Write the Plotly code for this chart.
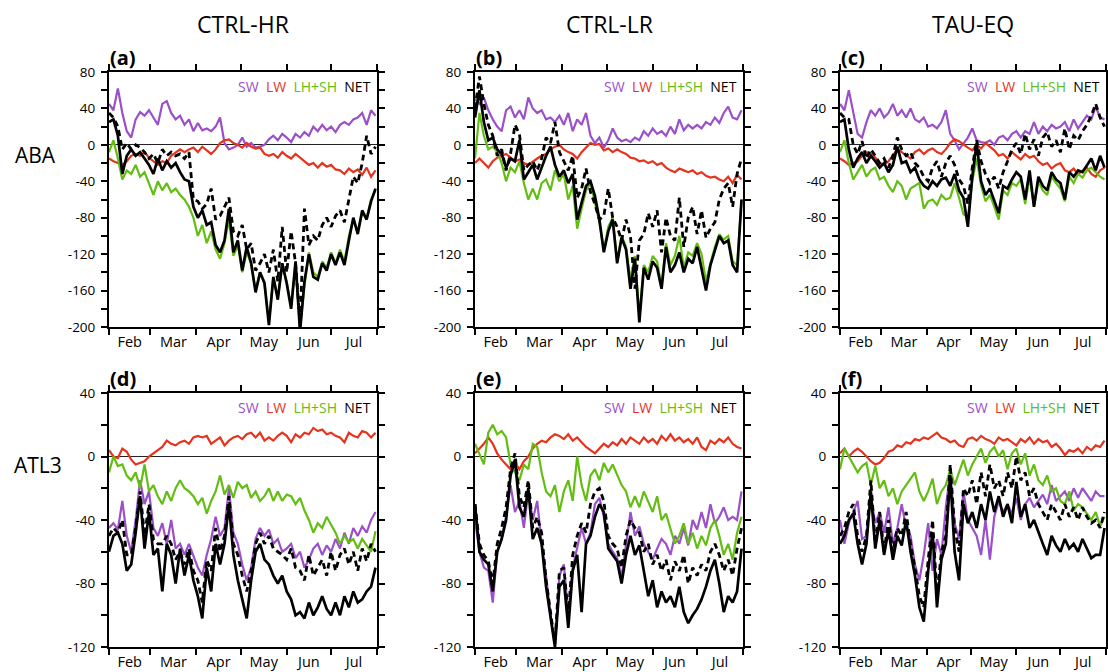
import plotly.graph_objects as go
import pandas as pd

# ---------------- data (every 3 days, 1 Feb - 31 Jul) ----------------
start_date = "2001-02-01"
n_points = 61
col_titles = ["CTRL-HR", "CTRL-LR", "TAU-EQ"]
row_titles = ["ABA", "ATL3"]
panel_tags = ["(a)", "(b)", "(c)", "(d)", "(e)", "(f)"]
series_names = ["SW", "LW", "LH+SH", "NET"]

# ---- ABA, CTRL-HR (a)
a_sw = [45, 38, 62, 35, 15, 8, 28, 36, 32, 38, 30, 22, 45, 48, 35, 28, 32, 22, 28, 15, 24, 16, 18, 15, 20, 30, 2, -5, -3, 0, 8, -2, 2, -3, -2, 0, 6, 10, 5, 12, 8, 3, 12, 8, 14, 10, 20, 15, 22, 16, 20, 14, 22, 25, 22, 28, 30, 35, 22, 38, 32]
a_lw = [-15, -18, -20, -22, -18, -12, -10, -12, -8, -14, -18, -22, -18, -20, -12, -8, -5, -8, -5, -3, -8, -2, -6, -10, -5, 2, 5, 6, 2, 0, -3, 2, -2, -4, -3, -10, -12, -10, -14, -8, -12, -15, -10, -14, -18, -22, -20, -25, -20, -24, -22, -27, -28, -32, -26, -30, -27, -33, -25, -35, -28]
a_lhsh = [-8, 5, -15, -38, -28, -32, -22, -35, -30, -42, -55, -40, -50, -42, -52, -48, -55, -60, -68, -80, -100, -88, -108, -95, -115, -125, -108, -82, -122, -110, -140, -118, -130, -160, -140, -150, -195, -145, -168, -132, -150, -178, -130, -202, -155, -118, -140, -145, -128, -135, -118, -130, -115, -128, -100, -82, -95, -75, -80, -60, -50]
a_net = [25, 28, 10, -32, -12, -5, -12, -8, -15, -22, -32, -15, -28, -18, -25, -20, -30, -38, -40, -68, -80, -72, -88, -85, -110, -118, -105, -70, -118, -105, -138, -112, -130, -162, -140, -152, -198, -145, -170, -130, -152, -180, -128, -205, -150, -120, -145, -148, -130, -138, -120, -132, -118, -132, -105, -80, -98, -72, -82, -62, -48]
a_dash = [35, 30, 20, -5, 2, -5, 0, -3, -8, -15, -10, -20, -5, -12, -8, -12, -10, -15, -8, -60, -62, -70, -65, -48, -82, -78, -68, -58, -95, -100, -88, -115, -108, -138, -130, -120, -140, -115, -150, -90, -140, -95, -130, -195, -70, -110, -100, -105, -88, -80, -90, -78, -72, -85, -60, -35, -42, -20, 10, -10, -2]

# ---- ABA, CTRL-LR (b)
b_sw = [50, 45, 52, 38, 28, 20, 15, 38, 42, 30, 38, 28, 52, 40, 35, 38, 28, 30, 25, 32, 22, 35, 15, 28, 22, 35, 10, 2, 8, -3, 5, 18, 8, 4, 6, 3, 8, 5, 15, 10, 18, 12, 15, 10, 20, 12, 28, 16, 22, 18, 22, 18, 25, 22, 30, 24, 35, 42, 30, 28, 38]
b_lw = [-20, -15, -20, -25, -18, -14, -12, -10, -14, -18, -16, -20, -22, -18, -15, -12, -10, -5, -2, 0, -5, -8, -10, -15, -8, -3, 2, 0, 1, -6, -4, -8, -5, -8, -10, -14, -15, -18, -17, -20, -18, -22, -20, -25, -28, -30, -26, -28, -30, -28, -32, -30, -34, -36, -35, -38, -40, -35, -42, -33, -38]
b_lhsh = [-15, 35, 10, -5, -2, -8, -20, -40, -25, -30, -18, -42, -60, -48, -60, -42, -38, -50, -28, -40, -32, -60, -45, -92, -70, -50, -42, -62, -85, -115, -90, -80, -128, -100, -112, -148, -122, -188, -132, -140, -122, -128, -155, -108, -132, -122, -100, -135, -118, -122, -108, -120, -150, -130, -112, -98, -104, -100, -128, -132, -60]
b_net = [30, 60, 25, 5, 8, -5, -10, -25, -15, -18, 5, -38, -30, -22, -38, -25, -12, -2, -22, -35, -28, -42, -32, -82, -62, -45, -40, -56, -82, -118, -95, -82, -130, -102, -115, -158, -125, -195, -135, -148, -128, -135, -158, -112, -140, -132, -118, -140, -125, -130, -112, -138, -160, -132, -115, -100, -108, -105, -132, -140, -60]
b_dash = [40, 75, 45, 22, 10, -12, -5, -28, -10, 22, 12, -28, -22, -18, -28, -15, 8, 2, 25, -8, -18, -28, -12, -58, -48, -26, -52, -65, -82, -78, -48, -80, -90, -105, -82, -100, -158, -105, -98, -75, -90, -72, -118, -80, -100, -105, -58, -112, -80, -68, -98, -72, -102, -92, -85, -60, -48, -42, -68, -32, -15]

# ---- ABA, TAU-EQ (c)
c_sw = [45, 38, 60, 35, 12, 8, 25, 38, 32, 40, 30, 35, 45, 32, 38, 30, 40, 28, 25, 30, 20, 22, 18, 25, 38, 12, 5, -5, 2, 8, 18, 5, 3, 2, 5, 0, 8, 10, 5, 12, 15, 8, 15, 12, 25, 12, 20, 15, 22, 18, 20, 25, 15, 28, 18, 25, 32, 28, 42, 30, 28]
c_lw = [-15, -18, -22, -20, -18, -12, -8, -10, -14, -20, -22, -18, -12, -5, -8, -12, -15, -8, -5, -10, -6, -4, -8, -10, -5, 2, 6, 4, 0, -3, -6, 0, -4, 2, -2, -6, -12, -10, -15, -8, -12, -16, -10, -14, -12, -18, -22, -20, -26, -22, -20, -28, -30, -26, -32, -28, -25, -32, -35, -28, -25]
c_lhsh = [-8, 5, -20, -38, -30, -22, -35, -28, -25, -38, -35, -45, -52, -40, -45, -60, -48, -45, -42, -70, -62, -60, -66, -55, -60, -58, -42, -58, -76, -80, -40, -15, -45, -62, -55, -68, -82, -50, -55, -42, -45, -38, -65, -35, -68, -40, -50, -55, -35, -42, -48, -62, -35, -42, -32, -36, -28, -25, -30, -35, -38]
c_net = [25, 28, -5, -25, -15, -8, -20, -12, -18, -25, -20, -30, -22, -2, -20, -18, -30, -25, -38, -45, -48, -40, -45, -38, -36, -45, -32, -50, -58, -90, -35, 2, -40, -55, -48, -62, -75, -45, -48, -38, -30, -35, -60, -28, -68, -35, -45, -50, -30, -38, -42, -60, -30, -35, -28, -30, -22, -15, -28, -12, -25]
c_dash = [35, 30, 28, 0, -10, 4, -15, -5, -12, -20, -15, -25, -12, 8, -5, -12, -8, -20, -25, -35, -40, -25, -18, -35, -20, -12, -22, -38, -45, -65, -25, 5, -18, -32, -42, -35, -48, -30, -18, -5, 2, -10, 12, -5, 6, -12, 8, 14, -2, 5, -8, 18, -5, 10, 5, 15, 22, 32, 45, 30, 20]

# ---- ATL3, CTRL-HR (d)
d_sw = [-45, -42, -46, -28, -50, -60, -40, -15, -30, -22, -45, -50, -42, -55, -40, -58, -55, -62, -55, -62, -70, -75, -62, -52, -38, -50, -45, -20, -48, -55, -68, -78, -70, -52, -45, -50, -46, -55, -52, -60, -58, -55, -64, -60, -70, -65, -58, -55, -62, -56, -60, -52, -58, -48, -55, -45, -50, -44, -48, -40, -35]
d_lw = [4, 0, -1, 5, 3, -2, -5, -4, -3, 0, 2, 4, 6, 10, 8, 7, 9, 10, 8, 12, 13, 12, 13, 8, 10, 12, 7, 10, 12, 13, 11, 14, 15, 12, 15, 10, 12, 10, 13, 15, 13, 9, 14, 12, 15, 14, 18, 16, 17, 14, 15, 13, 12, 9, 15, 13, 12, 16, 15, 12, 15]
d_lhsh = [-10, 0, -6, -5, -12, -15, -10, -20, -5, -22, -18, -25, -30, -22, -28, -20, -15, -20, -22, -25, -30, -26, -36, -28, -22, -12, -24, -18, -26, -16, -20, -18, -26, -22, -28, -25, -20, -28, -22, -28, -24, -25, -30, -26, -34, -40, -48, -42, -45, -38, -43, -48, -55, -50, -54, -52, -58, -52, -56, -60, -47]
d_net = [-60, -50, -48, -55, -72, -68, -48, -25, -58, -35, -62, -58, -85, -55, -62, -80, -58, -75, -62, -78, -88, -102, -70, -85, -55, -68, -55, -30, -62, -78, -90, -102, -78, -60, -55, -65, -68, -75, -80, -75, -85, -90, -100, -98, -102, -92, -100, -95, -88, -96, -100, -92, -100, -88, -95, -85, -92, -90, -85, -82, -70]
d_dash = [-50, -45, -48, -40, -62, -62, -45, -22, -50, -30, -52, -55, -55, -50, -55, -65, -60, -68, -58, -72, -78, -92, -65, -72, -45, -60, -50, -25, -55, -62, -75, -85, -72, -55, -48, -55, -50, -58, -60, -62, -65, -58, -70, -72, -78, -62, -75, -70, -65, -75, -60, -72, -62, -58, -68, -60, -72, -58, -66, -55, -60]

# ---- ATL3, CTRL-LR (e)
e_sw = [-40, -60, -70, -72, -92, -60, -52, -38, -18, -35, -28, -45, -22, -40, -28, -55, -75, -100, -118, -75, -68, -100, -70, -58, -45, -55, -48, -30, -26, -38, -55, -60, -64, -76, -55, -35, -50, -44, -55, -60, -65, -58, -52, -55, -62, -50, -55, -45, -56, -40, -46, -35, -45, -30, -42, -38, -32, -40, -38, -40, -22]
e_lw = [2, 5, 8, 12, 8, 2, -2, -5, -8, -4, -8, -3, 0, 5, 8, 10, 9, 12, 14, 13, 11, 14, 10, 12, 9, 6, 4, 2, 5, 8, 6, 9, 7, 11, 8, 12, 10, 8, 12, 9, 11, 8, 13, 10, 14, 10, 12, 9, 11, 8, 12, 6, 4, 10, 8, 11, 9, 12, 8, 6, 5]
e_lhsh = [8, 2, -5, 15, 20, 14, 16, 12, -5, -10, -15, -5, -8, 8, 6, -10, -22, -25, -18, -35, -22, -15, -28, 0, -18, -28, -12, -8, -15, -4, -10, -5, -12, -18, -22, -32, -25, -32, -22, -28, -35, -25, -40, -36, -45, -55, -50, -42, -55, -48, -58, -50, -56, -45, -40, -50, -62, -55, -65, -48, -38]
e_net = [-30, -60, -65, -68, -85, -60, -52, -40, -12, -2, -32, -38, -20, -52, -45, -55, -82, -100, -120, -82, -78, -108, -72, -62, -98, -55, -50, -38, -30, -35, -58, -62, -66, -80, -62, -50, -62, -56, -72, -88, -78, -95, -85, -92, -88, -95, -82, -98, -105, -100, -96, -90, -82, -72, -65, -80, -98, -88, -92, -85, -58]
e_dash = [-30, -55, -62, -66, -80, -55, -45, -32, -8, 2, -25, -32, -15, -45, -38, -48, -78, -98, -118, -72, -70, -100, -62, -50, -42, -48, -30, -22, -20, -28, -50, -55, -58, -70, -50, -40, -45, -48, -60, -55, -68, -62, -72, -65, -78, -66, -72, -62, -80, -70, -75, -68, -72, -60, -55, -62, -72, -65, -75, -58, -45]

# ---- ATL3, TAU-EQ (f)
f_sw = [-40, -55, -42, -35, -28, -52, -50, -25, -42, -35, -48, -32, -55, -45, -30, -45, -50, -68, -78, -62, -42, -72, -52, -62, -32, -10, -42, -52, -22, -40, -45, -50, -62, -40, -65, -38, -28, -35, -30, -36, -26, -40, -30, -26, -32, -28, -24, -30, -18, -28, -25, -22, -28, -20, -26, -20, -24, -28, -22, -25, -25]
f_lw = [2, 5, 0, 3, 5, 3, 0, -3, -5, -4, -1, 3, 4, 7, 6, 9, 8, 11, 10, 12, 11, 13, 15, 12, 11, 9, 10, 7, 6, 11, 12, 10, 13, 11, 10, 8, 12, 10, 11, 9, 7, 11, 9, 12, 8, 11, 9, 10, 6, 8, 5, 1, 4, 3, 5, 2, 6, 4, 7, 6, 10]
f_lhsh = [-8, 5, 0, -5, -10, -6, -4, -18, -6, -20, -15, -25, -20, -30, -22, -18, -14, -10, -22, -28, -22, -14, -30, -22, -18, -8, -18, -10, -2, -12, -5, 0, 5, -4, 3, 6, 0, 4, -8, 2, 5, -5, 2, -12, -5, -15, -18, -12, -22, -20, -28, -30, -22, -34, -30, -32, -36, -40, -35, -44, -38]
f_net = [-55, -50, -40, -36, -55, -68, -55, -22, -58, -40, -62, -46, -65, -50, -56, -40, -60, -75, -95, -104, -72, -48, -95, -65, -55, -12, -60, -78, -30, -42, -35, -45, -30, -40, -22, -35, -25, -38, -30, -42, -16, -38, -30, -45, -40, -48, -55, -62, -50, -56, -60, -52, -58, -55, -60, -52, -58, -64, -62, -62, -45]
f_dash = [-50, -45, -35, -30, -50, -60, -50, -15, -55, -35, -60, -40, -60, -45, -50, -35, -55, -70, -88, -95, -65, -40, -88, -60, -50, -5, -45, -60, -20, -25, -15, -30, -10, -25, -5, -20, -15, -25, -10, -20, 0, -15, -10, -25, -20, -30, -35, -40, -30, -35, -40, -30, -38, -32, -40, -32, -38, -42, -40, -45, -35]

top_yticks = [80, 40, 0, -40, -80, -120, -160, -200]
bot_yticks = [40, 0, -40, -80, -120]

# ---------------- styling ----------------
W, H = 1108, 672
FONT = "Open Sans"
C_SW = "#9b4fc9"
C_LW = "#e5331d"
C_GR = "#63bd12"
C_BK = "#000000"

dates = pd.date_range(start_date, periods=n_points, freq="3D")

panels = [
    (a_sw, a_lw, a_lhsh, a_net, a_dash),
    (b_sw, b_lw, b_lhsh, b_net, b_dash),
    (c_sw, c_lw, c_lhsh, c_net, c_dash),
    (d_sw, d_lw, d_lhsh, d_net, d_dash),
    (e_sw, e_lw, e_lhsh, e_net, e_dash),
    (f_sw, f_lw, f_lhsh, f_net, f_dash),
]

# pixel boxes of the plotting areas
xpix = [(109, 377), (475, 743), (840, 1106)]
ypix = [(72, 327), (393, 647)]

fig = go.Figure()
layout = {}
for i, (sw, lw, lh, net, dash) in enumerate(panels):
    r, c = divmod(i, 3)
    k = "" if i == 0 else str(i + 1)
    xa, ya = "x" + k, "y" + k
    for vals, col, wd, ds in [(sw, C_SW, 2.2, "solid"), (lw, C_LW, 2.2, "solid"),
                              (lh, C_GR, 2.2, "solid"), (dash, C_BK, 2.8, "6px,4px"),
                              (net, C_BK, 2.7, "solid")]:
        fig.add_trace(go.Scatter(x=dates, y=vals, mode="lines", xaxis=xa, yaxis=ya,
                                 line=dict(color=col, width=wd, dash=ds),
                                 showlegend=False, hoverinfo="skip"))
    x0, x1 = xpix[c]
    y0, y1 = ypix[r]
    yt = top_yticks if r == 0 else bot_yticks
    layout["xaxis" + k] = dict(
        domain=[x0 / W, x1 / W], anchor=ya, type="date",
        range=["2001-02-01", "2001-08-01"], tick0="2001-02-01", dtick="M1",
        ticklabelmode="period", tickformat="%b",
        showline=True, linecolor="black", linewidth=2, mirror="ticks",
        ticks="outside", ticklen=6, tickwidth=1.5, tickcolor="black",
        ticklabelstandoff=-5,
        showgrid=False, zeroline=False, automargin=False,
        tickfont=dict(family=FONT, size=14.5, color="black"),
    )
    layout["yaxis" + k] = dict(
        domain=[1 - y1 / H, 1 - y0 / H], anchor=xa,
        range=[min(yt), max(yt)], tickmode="array", tickvals=yt,
        ticktext=[str(v) for v in yt],
        showline=True, linecolor="black", linewidth=2, mirror="ticks",
        ticks="outside", ticklen=6, tickwidth=1.5, tickcolor="black",
        ticklabelstandoff=3,
        minor=dict(tickmode="linear", tick0=0, dtick=20, ticks="outside",
                   ticklen=6, tickwidth=1.5, tickcolor="black", showgrid=False),
        showgrid=False, zeroline=True, zerolinecolor="#222", zerolinewidth=1,
        automargin=False,
        tickfont=dict(family=FONT, size=13.5, color="black"),
    )

annotations = []
for c, t in enumerate(col_titles):
    x0, x1 = xpix[c]
    annotations.append(dict(text=t, x=(x0 + x1) / 2 / W, y=1 - 24 / H, xref="paper", yref="paper",
                            showarrow=False, font=dict(family=FONT, size=23, color="black"),
                            xanchor="center", yanchor="middle"))
for r, (t, yy, xx) in enumerate([(row_titles[0], 155, 35), (row_titles[1], 465, 38)]):
    annotations.append(dict(text=t, x=xx / W, y=1 - yy / H, xref="paper", yref="paper",
                            showarrow=False, font=dict(family=FONT, size=21, color="black"),
                            xanchor="center", yanchor="middle"))
sp = "&nbsp;&nbsp;"
legend_html = (f"<span style='color:{C_SW}'>{series_names[0]}</span>{sp}"
               f"<span style='color:{C_LW}'>{series_names[1]}</span>{sp}"
               f"<span style='color:{C_GR}'>{series_names[2]}</span>{sp}"
               f"<span style='color:{C_BK}'>{series_names[3]}</span>")
for i, tag in enumerate(panel_tags):
    r, c = divmod(i, 3)
    x0, x1 = xpix[c]
    y0, y1 = ypix[r]
    annotations.append(dict(text=f"<b>{tag}</b>", x=(x0 - 1) / W, y=1 - (y0 - 15) / H,
                            xref="paper", yref="paper", showarrow=False,
                            font=dict(family=FONT, size=20, color="black"),
                            xanchor="left", yanchor="middle"))
    annotations.append(dict(text=legend_html, x=(x1 - 4) / W, y=1 - (y0 + 14) / H,
                            xref="paper", yref="paper", showarrow=False,
                            font=dict(family=FONT, size=14, color="black"),
                            xanchor="right", yanchor="middle"))

fig.update_layout(width=W, height=H, margin=dict(l=0, r=0, t=0, b=0, autoexpand=False),
                  paper_bgcolor="white", plot_bgcolor="white",
                  annotations=annotations, **layout)
fig.write_html("out.html", config={"displayModeBar": False},
               post_script="document.body.style.margin='0';document.body.style.padding='0';"
                           "document.body.style.overflow='hidden';")
